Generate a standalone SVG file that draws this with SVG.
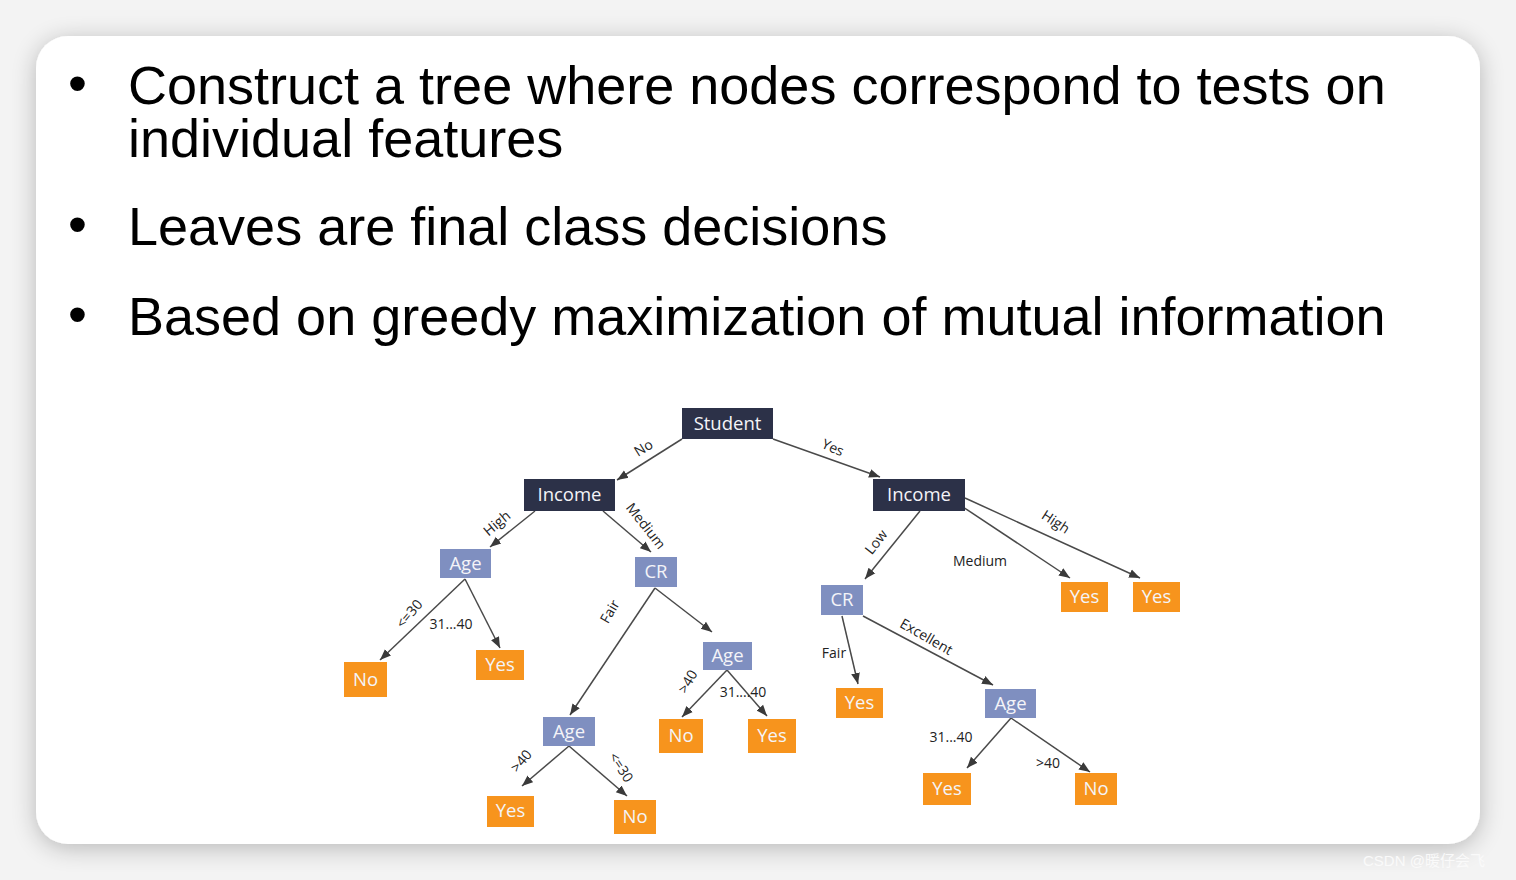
<svg xmlns="http://www.w3.org/2000/svg" width="1516" height="880" viewBox="0 0 1516 880">
<style>
.bul{font-family:"Liberation Sans",Arial,sans-serif;font-size:54px;fill:#000}
.nt{font-family:"Open Sans","Noto Sans",sans-serif;font-size:18.5px;fill:#f4f4f8;text-anchor:middle}
.lb{font-family:"Open Sans","Noto Sans",sans-serif;font-size:14px;fill:#222;text-anchor:middle}
.dark{fill:#2c3148}
.blue{fill:#7f8fc0}
.org{fill:#f7941d}
.e{stroke:#4a4a4a;stroke-width:1.5;fill:none;marker-end:url(#ah)}
</style>
<defs>
<marker id="ah" viewBox="0 0 10 10" refX="10" refY="5" markerWidth="11" markerHeight="11" markerUnits="userSpaceOnUse" orient="auto">
<path d="M0,1 L10,5 L0,9 Z" fill="#3a3a3a"/>
</marker>
<filter id="sh" x="-10%" y="-10%" width="120%" height="120%">
<feGaussianBlur in="SourceAlpha" stdDeviation="12"/>
<feOffset dx="0" dy="4" result="b"/>
<feComponentTransfer><feFuncA type="linear" slope="0.25"/></feComponentTransfer>
<feMerge><feMergeNode/><feMergeNode in="SourceGraphic"/></feMerge>
</filter>
</defs>
<rect width="1516" height="880" fill="#f3f3f3"/>
<rect x="36" y="36" width="1444" height="808" rx="32" fill="#ffffff" filter="url(#sh)"/>
<text x="1363" y="866" font-family="'Liberation Sans','Noto Sans CJK SC',sans-serif" font-size="15" fill="#fafafa">CSDN @暖仔会飞</text>

<g id="bullets">
<text class="bul" x="68" y="102">•</text>
<text class="bul" x="128" y="104">Construct a tree where nodes correspond to tests on</text>
<text class="bul" x="128" y="157">individual features</text>
<text class="bul" x="68" y="243">•</text>
<text class="bul" x="128" y="245">Leaves are final class decisions</text>
<text class="bul" x="68" y="333">•</text>
<text class="bul" x="128" y="335">Based on greedy maximization of mutual information</text>
</g>

<g id="connectors">
<line class="e" x1="682" y1="439" x2="617" y2="480"/>
<line class="e" x1="773" y1="439" x2="880" y2="477"/>
<line class="e" x1="535" y1="511" x2="490" y2="547"/>
<line class="e" x1="603" y1="511" x2="651" y2="552"/>
<line class="e" x1="920" y1="511" x2="865" y2="579"/>
<line class="e" x1="963" y1="507" x2="1070" y2="578"/>
<line class="e" x1="965" y1="498" x2="1140" y2="578"/>
<line class="e" x1="465" y1="579" x2="380" y2="660"/>
<line class="e" x1="465" y1="579" x2="500" y2="648"/>
<line class="e" x1="655" y1="588" x2="570" y2="715"/>
<line class="e" x1="655" y1="588" x2="712" y2="632"/>
<line class="e" x1="727" y1="670" x2="682" y2="717"/>
<line class="e" x1="727" y1="670" x2="767" y2="716"/>
<line class="e" x1="842" y1="616" x2="858" y2="684"/>
<line class="e" x1="863" y1="616" x2="993" y2="685"/>
<line class="e" x1="569" y1="746" x2="522" y2="786"/>
<line class="e" x1="569" y1="746" x2="627" y2="796"/>
<line class="e" x1="1011" y1="718" x2="967" y2="768"/>
<line class="e" x1="1011" y1="718" x2="1090" y2="772"/>
<text class="lb" transform="translate(646,452) rotate(-32)">No</text>
<text class="lb" transform="translate(831,452) rotate(24)">Yes</text>
<text class="lb" transform="translate(500,527) rotate(-40)">High</text>
<text class="lb" transform="translate(642,529) rotate(52)">Medium</text>
<text class="lb" transform="translate(880,545) rotate(-52)">Low</text>
<text class="lb" x="980" y="566">Medium</text>
<text class="lb" transform="translate(1053,526) rotate(33)">High</text>
<text class="lb" transform="translate(413,617) rotate(-50)">&lt;=30</text>
<text class="lb" x="451" y="629">31...40</text>
<text class="lb" transform="translate(614,614) rotate(-60)">Fair</text>
<text class="lb" transform="translate(692,684) rotate(-60)">&gt;40</text>
<text class="lb" x="743" y="697">31....40</text>
<text class="lb" x="834" y="658">Fair</text>
<text class="lb" transform="translate(924,641) rotate(30)">Excellent</text>
<text class="lb" transform="translate(525,764) rotate(-50)">&gt;40</text>
<text class="lb" transform="translate(617,770) rotate(57)">&lt;=30</text>
<text class="lb" x="951" y="742">31...40</text>
<text class="lb" x="1048" y="768">&gt;40</text>
</g>

<g id="n-student"><rect class="dark" x="682" y="408" width="91" height="31"/><text class="nt" x="727.5" y="430">Student</text></g>
<g id="n-income-l"><rect class="dark" x="524" y="479" width="91" height="32"/><text class="nt" x="569.5" y="501">Income</text></g>
<g id="n-income-r"><rect class="dark" x="873" y="479" width="92" height="32"/><text class="nt" x="919" y="501">Income</text></g>
<g id="n-age1"><rect class="blue" x="440" y="549" width="51" height="29"/><text class="nt" x="465.5" y="570">Age</text></g>
<g id="n-cr1"><rect class="blue" x="635" y="557" width="42" height="30"/><text class="nt" x="656" y="578">CR</text></g>
<g id="n-cr2"><rect class="blue" x="821" y="585" width="42" height="30"/><text class="nt" x="842" y="606">CR</text></g>
<g id="n-yes-r1"><rect class="org" x="1061" y="582" width="47" height="30"/><text class="nt" x="1084.5" y="603">Yes</text></g>
<g id="n-yes-r2"><rect class="org" x="1133" y="582" width="47" height="30"/><text class="nt" x="1156.5" y="603">Yes</text></g>
<g id="n-no1"><rect class="org" x="344" y="662" width="43" height="35"/><text class="nt" x="365.5" y="686">No</text></g>
<g id="n-yes1"><rect class="org" x="476" y="650" width="48" height="30"/><text class="nt" x="500" y="671">Yes</text></g>
<g id="n-age2"><rect class="blue" x="703" y="642" width="49" height="28"/><text class="nt" x="727.5" y="662">Age</text></g>
<g id="n-age3"><rect class="blue" x="543" y="717" width="52" height="29"/><text class="nt" x="569" y="738">Age</text></g>
<g id="n-no2"><rect class="org" x="659" y="719" width="44" height="34"/><text class="nt" x="681" y="742">No</text></g>
<g id="n-yes2"><rect class="org" x="748" y="719" width="48" height="34"/><text class="nt" x="772" y="742">Yes</text></g>
<g id="n-yes3"><rect class="org" x="836" y="688" width="47" height="30"/><text class="nt" x="859.5" y="709">Yes</text></g>
<g id="n-age4"><rect class="blue" x="985" y="689" width="51" height="29"/><text class="nt" x="1010.5" y="710">Age</text></g>
<g id="n-yes4"><rect class="org" x="487" y="796" width="47" height="31"/><text class="nt" x="510.5" y="817">Yes</text></g>
<g id="n-no3"><rect class="org" x="614" y="800" width="42" height="34"/><text class="nt" x="635" y="823">No</text></g>
<g id="n-yes5"><rect class="org" x="923" y="773" width="48" height="32"/><text class="nt" x="947" y="795">Yes</text></g>
<g id="n-no4"><rect class="org" x="1075" y="773" width="42" height="32"/><text class="nt" x="1096" y="795">No</text></g>
</svg>
